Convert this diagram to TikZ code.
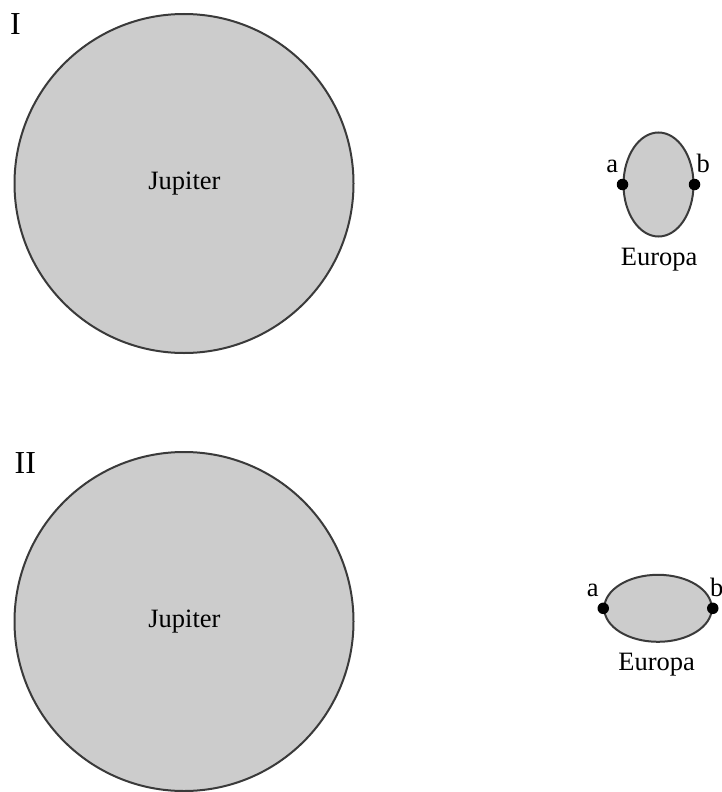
\documentclass[tikz,border=0pt]{standalone}
\usepackage{fontspec}
\setmainfont{Liberation Serif}
\usetikzlibrary{shapes.geometric}
\definecolor{bodyfill}{HTML}{CCCCCC}
\definecolor{edgecol}{HTML}{3A3A3A}
\tikzset{
  body/.style={draw=edgecol, fill=bodyfill, line width=2pt, inner sep=0pt},
  dotpt/.style={circle, fill=black, minimum size=11.5pt, inner sep=0pt},
  lbl/.style={anchor=base, inner sep=0pt, font=\fontsize{26.5}{30}\selectfont},
  num/.style={anchor=base, inner sep=0pt, font=\fontsize{32}{36}\selectfont}
}
\begin{document}
\begin{tikzpicture}[x=1pt,y=-1pt]
\useasboundingbox (0,0) rectangle (721,792);
% Panel I
\node[num] (n1) at (15.5,34.3) {I};
\node[body, circle, minimum size=339pt] (j1) at (184,183.5) {};
\node[lbl] (jt1) at (184.5,189) {Jupiter};
\node[body, ellipse, minimum width=70pt, minimum height=104pt] (e1) at (658.5,184.5) {};
\node[dotpt] (a1) at (e1.west) {};
\node[dotpt] (b1) at (e1.east) {};
\node[lbl] (al1) at (612.3,172) {a};
\node[lbl] (bl1) at (703.3,172) {b};
\node[lbl] (et1) at (659.2,265) {Europa};
% Panel II
\node[num] (n2) at (25.3,473.3) {II};
\node[body, circle, minimum size=339pt] (j2) at (184,621.5) {};
\node[lbl] (jt2) at (184.5,627) {Jupiter};
\node[body, ellipse, minimum width=107.5pt, minimum height=67pt] (e2) at (658,608.3) {};
\node[dotpt] (a2) at (e2.west) {};
\node[dotpt] (b2) at (e2.east) {};
\node[lbl] (al2) at (592.7,596) {a};
\node[lbl] (bl2) at (716.7,596) {b};
\node[lbl] (et2) at (656.7,670.7) {Europa};
\end{tikzpicture}
\end{document}
